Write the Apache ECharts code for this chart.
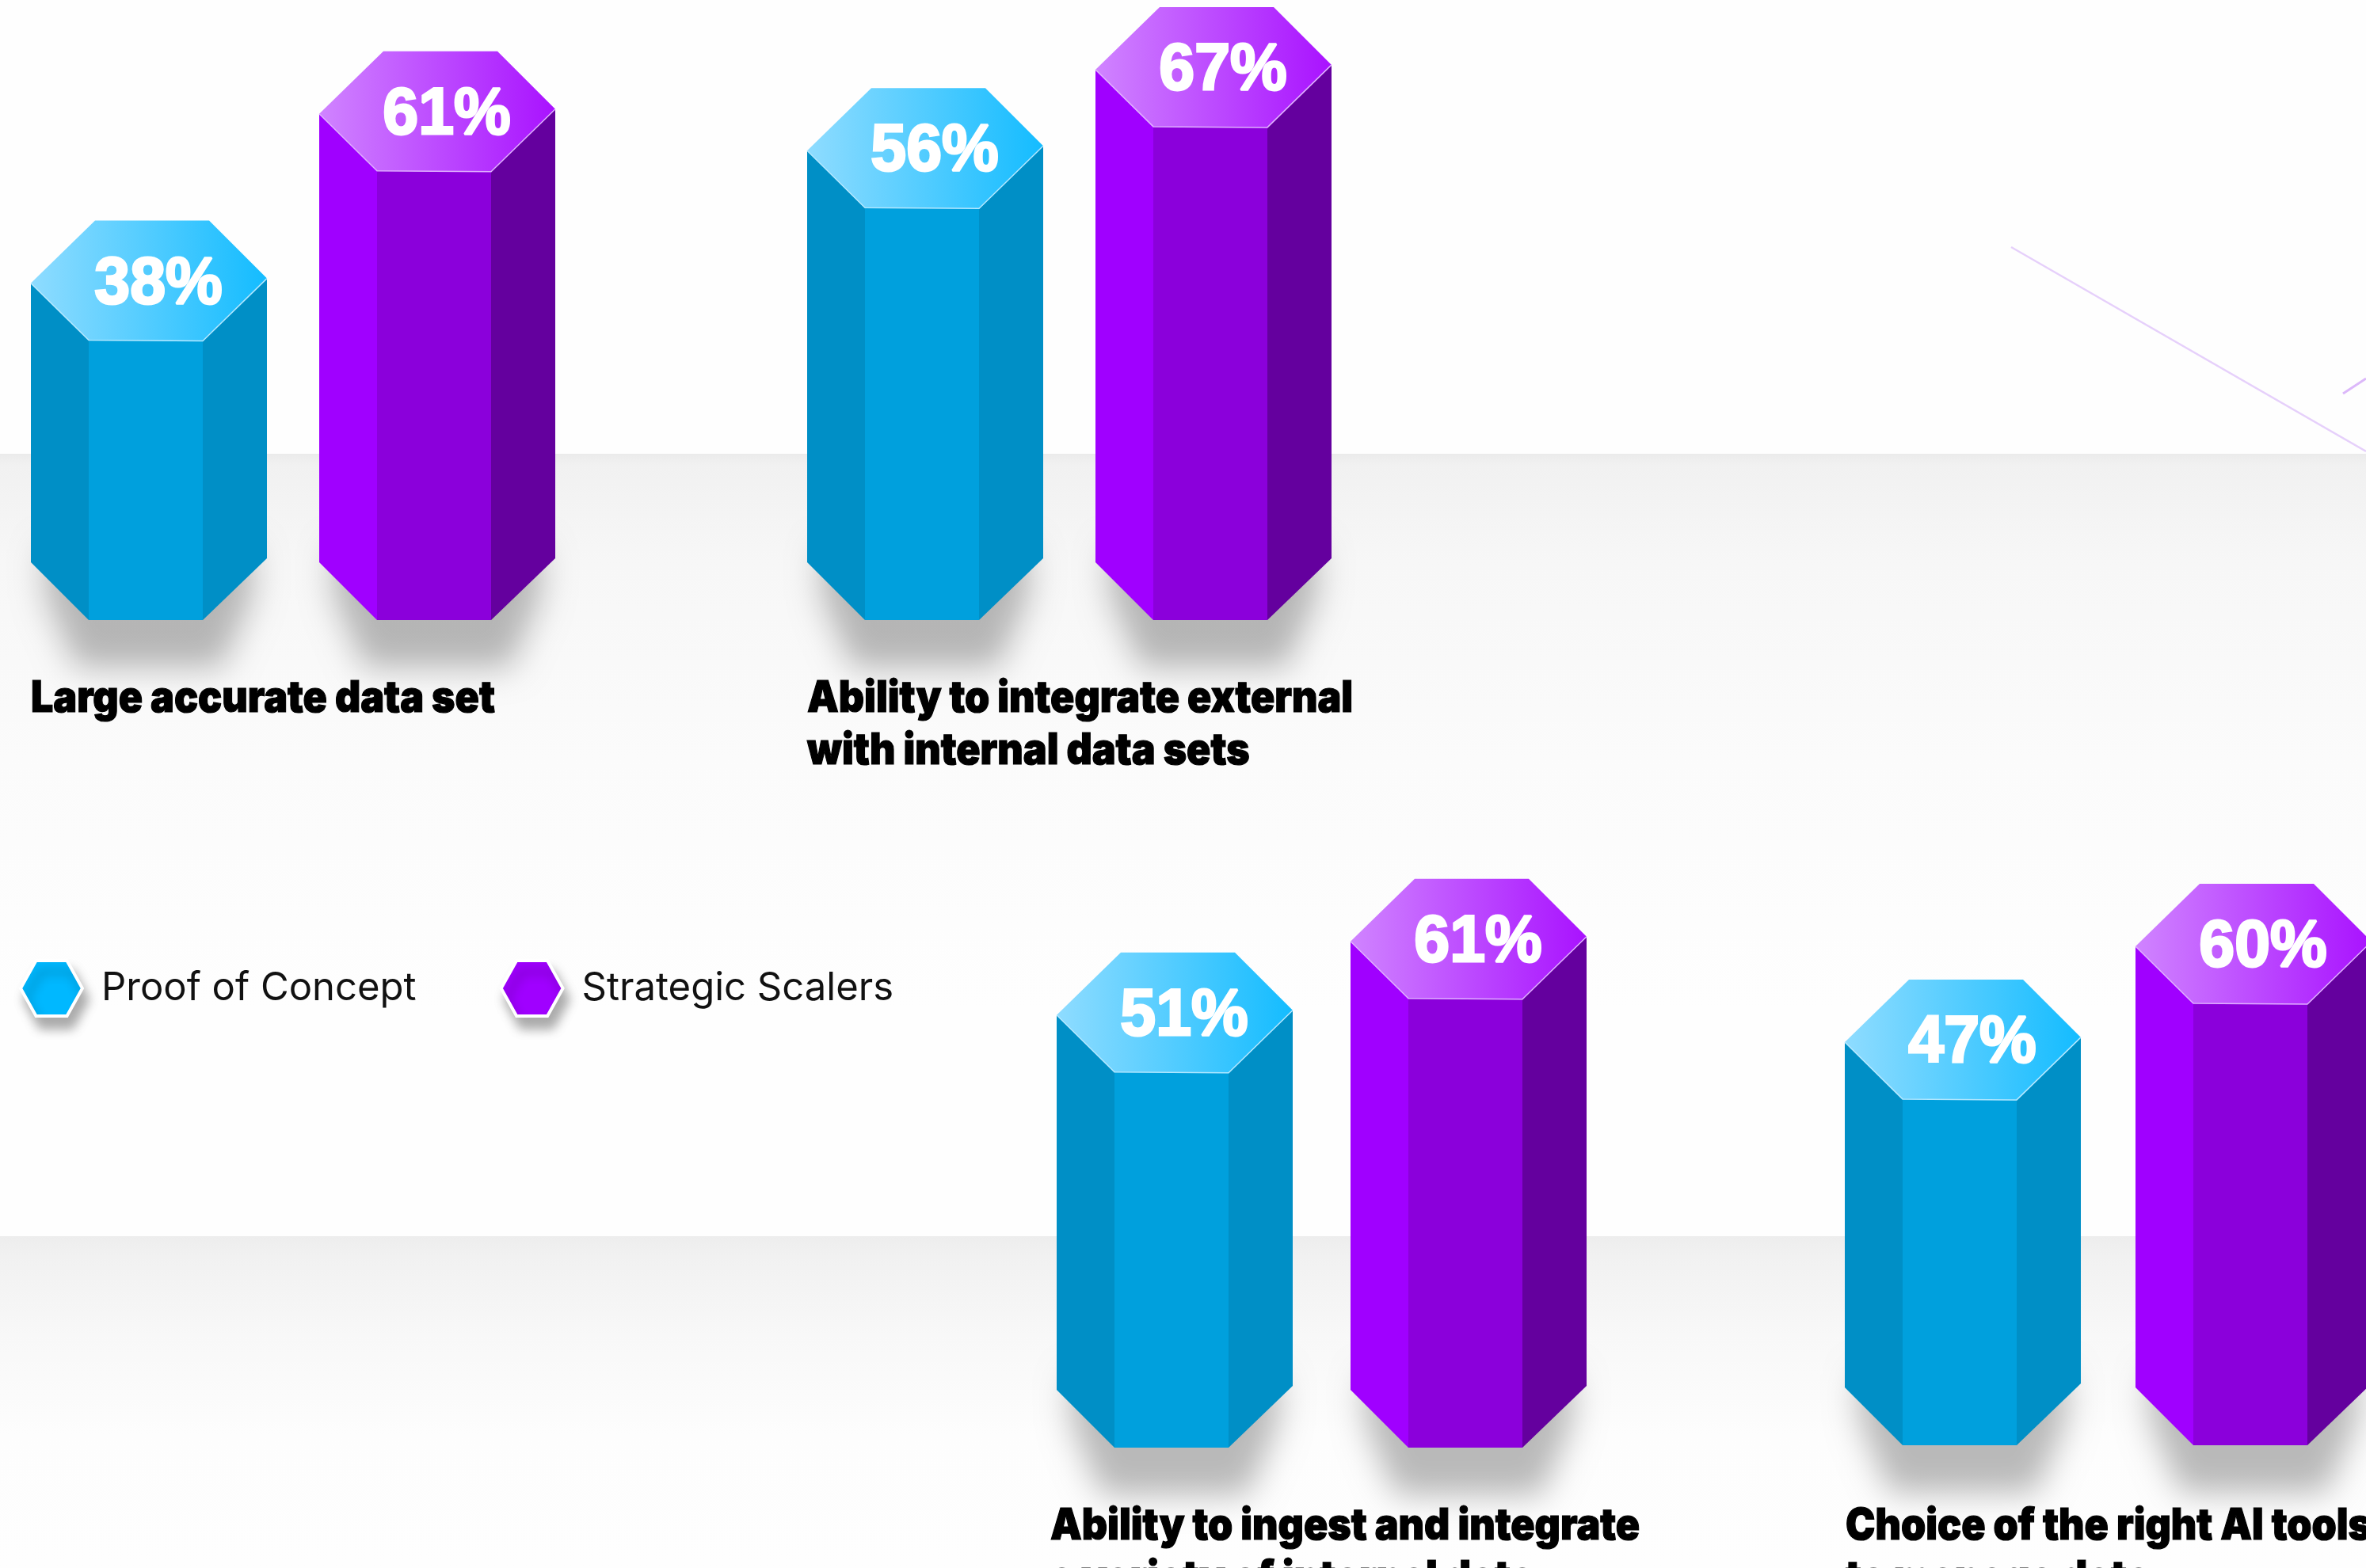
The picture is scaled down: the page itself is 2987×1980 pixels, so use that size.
<!DOCTYPE html>
<html>
<head>
<meta charset="utf-8">
<title>Data capabilities by maturity group</title>
<script src="https://cdn.jsdelivr.net/npm/echarts@6/dist/echarts.min.js"></script>
<style>
  html, body { margin: 0; padding: 0; background: #fff; overflow: hidden; }
  #chart { width: 2987px; height: 1980px; }
</style>
</head>
<body>
<div id="chart"></div>
<script>
// Survey results
const seriesNames = ['Proof of Concept', 'Strategic Scalers'];
const capabilities = [
  'Large accurate data set',
  'Ability to integrate external\nwith internal data sets',
  'Ability to ingest and integrate\na variety of internal data',
  'Choice of the right AI tools\nto manage data'
];
const proofOfConcept = [38, 56, 51, 47];
const strategicScalers = [61, 67, 61, 60];

// Panel placement: first bar centre, spacing of the pair, baseline, caption anchor
const firstBarCentre = [188, 1168, 1483, 2478];
const barSpacing = [364, 364, 371, 367];
const baselineY = [783, 783, 1828, 1825];
const captionAt = [[39, 849], [1019, 849], [1326, 1894], [2330, 1894]];

// Shared value scale: 80% spans 744 px
const AXIS_MAX = 80;
const AXIS_PX = 744;

const palettes = [
  { left: '#008fc6', front: '#00a0dd', right: '#008fc6', capA: '#8fdcff', capB: '#14bcff', edge: '#b4e8ff', key: '#00b8ff' },
  { left: '#a000ff', front: '#8b00db', right: '#64009e', capA: '#d084ff', capB: '#a912ff', edge: '#e0b0ff', key: '#a000ff' }
];

function renderColumn(palette) {
  return function (params, api) {
    const bottom = api.coord([api.value(0), 0]);
    const top = api.coord([api.value(0), api.value(1)]);
    const c = bottom[0], by = bottom[1], ty = top[1];

    // Contours of the hexagonal prism, relative to its centre line
    const xL = c - 149, xIL = c - 76, xIR = c + 68, xR = c + 149;
    const capL = c - 68, capR = c + 76;

    const poly = (points, style) => ({
      type: 'polygon', shape: { points }, style, silent: true
    });

    // Ground shadow: the casting shape sits off the page so only its blur shows
    const away = 6000;
    const shadow = poly([
      [c - 132 - away, by - 90], [c + 132 - away, by - 90],
      [c + 130 - away, by - 30], [c + 92 - away, by + 60], [c - 92 - away, by + 60], [c - 130 - away, by - 30]
    ], {
      fill: '#000',
      shadowColor: 'rgba(0,0,0,0.27)',
      shadowBlur: 40,
      shadowOffsetX: away,
      shadowOffsetY: 0
    });

    const leftFace = poly([[xL, ty - 72], [xIL, ty], [xIL, by], [xL, by - 73]], { fill: palette.left });
    const frontFace = poly([[xIL, ty], [xIR, ty], [xIR, by], [xIL, by]], { fill: palette.front });
    const rightFace = poly([[xIR, ty], [xR, ty - 78], [xR, by - 78], [xIR, by]], { fill: palette.right });

    const cap = poly([
      [capL, ty - 151], [capR, ty - 151], [xR, ty - 78], [xIR, ty + 1], [xIL, ty], [xL, ty - 72]
    ], {
      fill: new echarts.graphic.LinearGradient(0, 0, 1, 0, [
        { offset: 0, color: palette.capA },
        { offset: 1, color: palette.capB }
      ])
    });

    const rim = {
      type: 'polyline',
      shape: { points: [[xL, ty - 72], [xIL, ty], [xIR, ty + 1], [xR, ty - 78]] },
      style: { stroke: palette.edge, lineWidth: 1.5, fill: null },
      silent: true
    };

    const valueLabel = {
      type: 'text',
      x: c + 12,
      y: ty - 70,
      scaleX: 0.96,
      style: {
        text: api.value(1) + '%',
        fill: '#fff',
        stroke: '#fff',
        lineWidth: 3,
        font: 'bold 84px "Liberation Sans", Arial, sans-serif',
        align: 'center',
        verticalAlign: 'middle'
      },
      silent: true
    };

    return {
      type: 'group',
      children: [shadow, leftFace, frontFace, rightFace, cap, rim, valueLabel]
    };
  };
}

const grids = [], xAxes = [], yAxes = [], series = [];
capabilities.forEach((name, i) => {
  const step = barSpacing[i];
  grids.push({
    left: firstBarCentre[i] - step / 2,
    width: step * 2,
    top: baselineY[i] - AXIS_PX,
    height: AXIS_PX,
    outerBoundsMode: 'none'
  });
  xAxes.push({ type: 'category', gridIndex: i, data: seriesNames, show: false });
  yAxes.push({ type: 'value', gridIndex: i, min: 0, max: AXIS_MAX, show: false });
  [proofOfConcept, strategicScalers].forEach((values, s) => {
    series.push({
      type: 'custom',
      name: seriesNames[s],
      xAxisIndex: i,
      yAxisIndex: i,
      clip: false,
      z: 3,
      itemStyle: { color: palettes[s].key },
      renderItem: renderColumn(palettes[s]),
      encode: { x: 0, y: 1 },
      data: [[s, values[i]]]
    });
  });
});

// Soft floor bands and the two faint diagonal strokes behind the columns
const band = (y, h, stops) => ({
  type: 'rect', silent: true, z: 0,
  shape: { x: 0, y, width: 2987, height: h },
  style: {
    fill: new echarts.graphic.LinearGradient(0, 0, 0, 1,
      stops.map(([offset, color]) => ({ offset, color })))
  }
});

const floorGraphics = [
  band(1561, 419, [[0, '#ededed'], [0.06, '#f1f1f1'], [0.3, '#f8f8f8'], [0.6, '#fdfdfd'], [1, '#fefefe']]),
  band(573, 700, [[0, '#ebebeb'], [0.02, '#f1f1f1'], [0.2, '#f7f7f7'], [0.55, '#fbfbfb'], [1, '#fefefe']]),
  {
    type: 'line', silent: true, z: 1,
    shape: { x1: 2539, y1: 312, x2: 2987, y2: 570 },
    style: { stroke: '#e6d0fb', lineWidth: 2.5 }
  },
  {
    type: 'line', silent: true, z: 1,
    shape: { x1: 2958, y1: 497, x2: 2987, y2: 478 },
    style: { stroke: '#dcb8fa', lineWidth: 3 }
  }
];

const captionGraphics = capabilities.map((text, i) => ({
  type: 'text',
  silent: true,
  z: 4,
  x: captionAt[i][0],
  y: captionAt[i][1],
  scaleX: 0.91,
  style: {
    text,
    fill: '#000',
    stroke: '#000',
    lineWidth: 1.2,
    font: '900 55px Inter, "Noto Sans", sans-serif',
    lineHeight: 66,
    align: 'left',
    verticalAlign: 'top'
  }
}));

const chart = echarts.init(document.getElementById('chart'), null, { renderer: 'canvas' });
chart.setOption({
  animation: false,
  backgroundColor: '#fefefe',
  grid: grids,
  xAxis: xAxes,
  yAxis: yAxes,
  legend: {
    left: 24,
    top: 1211,
    orient: 'horizontal',
    itemWidth: 78,
    itemHeight: 70,
    itemGap: 105,
    padding: 0,
    selectedMode: false,
    symbolKeepAspect: false,
    icon: 'path://M25 0 L75 0 L100 50 L75 100 L25 100 L0 50 Z',
    itemStyle: {
      borderColor: '#fff',
      borderWidth: 4,
      shadowColor: 'rgba(0,0,0,0.32)',
      shadowBlur: 14,
      shadowOffsetX: 6,
      shadowOffsetY: 14
    },
    textStyle: {
      color: '#111',
      fontFamily: 'Inter, "Noto Sans", sans-serif',
      fontSize: 49,
      fontWeight: 400,
      padding: [0, 0, 0, 19]
    },
    data: seriesNames.map((name, s) => ({ name, itemStyle: { color: palettes[s].key } }))
  },
  graphic: { elements: floorGraphics.concat(captionGraphics) },
  series
});
</script>
</body>
</html>
